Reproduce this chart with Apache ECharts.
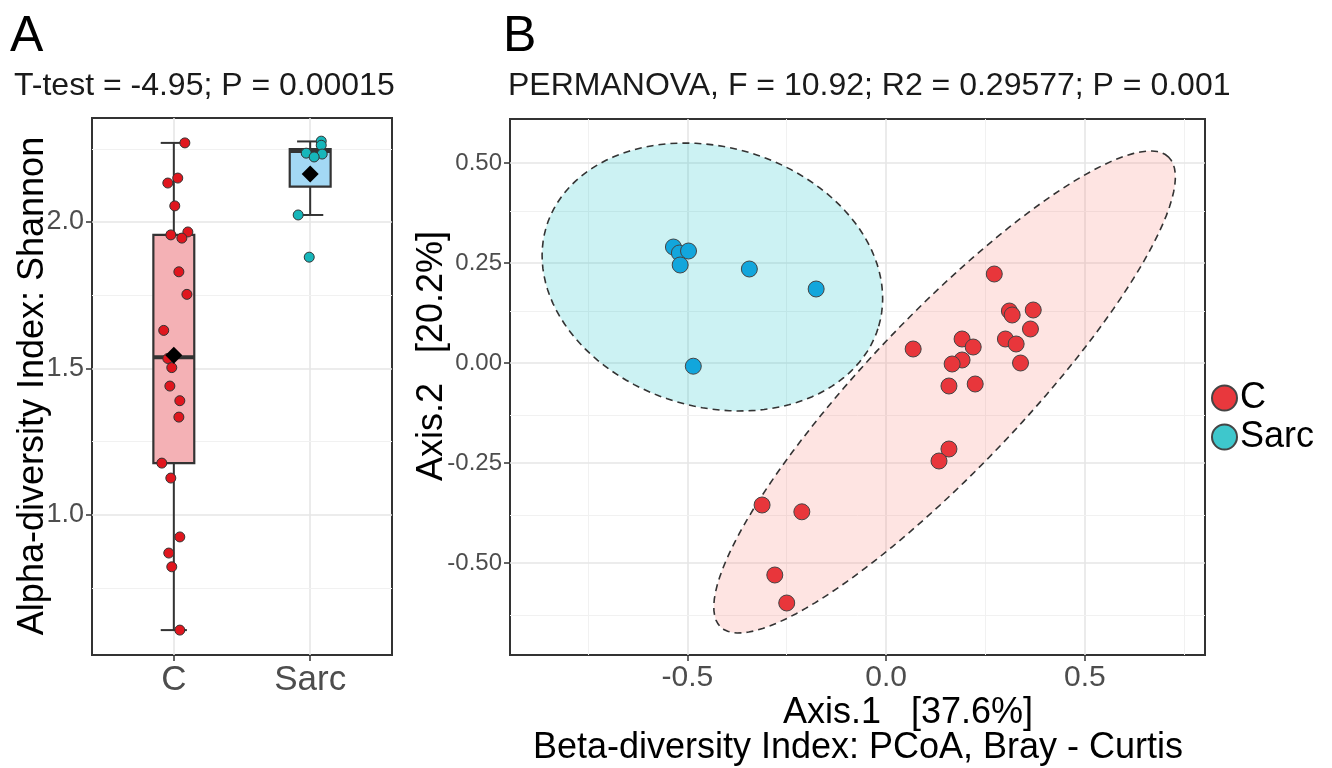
<!DOCTYPE html>
<html>
<head>
<meta charset="utf-8">
<script src="https://cdn.jsdelivr.net/npm/echarts@6/dist/echarts.min.js"></script>
<style>
  html, body { margin: 0; padding: 0; background: #fff; }
  #chart { width: 1332px; height: 768px; }
</style>
</head>
<body>
<div id="chart"></div>
<script>
  // panel A: Shannon index per group, jitter
  var groups = ['C', 'Sarc'];
  var shannonC = [2.27, 2.15, 2.133, 2.055, 1.966, 1.956, 1.945, 1.83, 1.753, 1.63, 1.534,
                  1.503, 1.44, 1.39, 1.334, 1.177, 1.126, 0.925, 0.87, 0.823, 0.607];
  var jitterC = [0.081, 0.029, -0.044, 0.007, 0.103, -0.022, 0.059, 0.037, 0.096, -0.074, -0.044,
                 -0.015, -0.029, 0.044, 0.037, -0.088, -0.022, 0.044, -0.037, -0.015, 0.044];
  var shannonSarc = [2.276, 2.262, 2.235, 2.232, 2.222, 2.024, 1.88];
  var jitterSarc = [0.081, 0.081, -0.029, 0.088, 0.029, -0.088, -0.007];
  // [low whisker, q1, median, q3, high whisker]
  var boxC = [0.607, 1.177, 1.538, 1.956, 2.27];
  var boxSarc = [2.024, 2.121, 2.242, 2.249, 2.275];
  var meanC = 1.545;
  var meanSarc = 2.164;
  var shannonTicks = [1.0, 1.5, 2.0];
  var shannonGrid = [0.75, 1.0, 1.25, 1.5, 1.75, 2.0, 2.25];

  // panel B: PCoA coordinates
  var axis1C = [0.068, -0.312, -0.212, -0.28, -0.25, 0.272, 0.31, 0.317, 0.37, 0.363, 0.191,
                0.219, 0.30, 0.327, 0.191, 0.166, 0.338, 0.158, 0.224, 0.158, 0.133];
  var axis2C = [0.035, -0.355, -0.372, -0.53, -0.60, 0.2225, 0.13, 0.12, 0.1325, 0.085, 0.06,
                0.04, 0.06, 0.0475, 0.0075, -0.0025, 0.0, -0.0575, -0.0525, -0.215, -0.245];
  var axis1Sarc = [-0.535, -0.52, -0.497, -0.518, -0.344, -0.176, -0.485];
  var axis2Sarc = [0.29, 0.275, 0.28, 0.245, 0.235, 0.185, -0.008];
  // [centre x, centre y, semi-major, semi-minor, angle deg]
  var ellipseC = [0.147, -0.0725, 0.8139, 0.1941, 46.2];
  var ellipseSarc = [-0.437, 0.215, 0.4361, 0.3247, -16.4];
  var axis1Ticks = [-0.5, 0, 0.5];
  var axis1Grid = [-0.75, -0.5, -0.25, 0, 0.25, 0.5, 0.75];
  var axis2Ticks = [-0.5, -0.25, 0, 0.25, 0.5];
  var axis2Grid = [-0.625, -0.5, -0.375, -0.25, -0.125, 0, 0.125, 0.25, 0.375, 0.5];

  var dom = document.getElementById("chart");
  var myChart = echarts.init(dom, null, { renderer: 'canvas' });
  var font = 'Liberation Sans';

  function zipPts(xs, ys, offset) {
    return ys.map(function (y, i) { return [offset + xs[i], y]; });
  }
  function pcoaPts(xs, ys) {
    return xs.map(function (x, i) { return [x, ys[i]]; });
  }
  function gridLines(vals, key, majors) {
    return vals.map(function (v) {
      var o = {};
      o[key] = v;
      var major = majors.indexOf(v) >= 0;
      o.lineStyle = { color: major ? '#e6e6e6' : '#f1f1f1', width: major ? 1.6 : 1, type: 'solid' };
      return o;
    });
  }

  function renderBox(params, api) {
    var pos = api.value(0);
    var low = api.value(1), q1 = api.value(2), med = api.value(3), q3 = api.value(4), high = api.value(5);
    var fill = params.dataIndex === 0 ? '#f4b1b5' : '#a3d8f4';
    var c = api.coord;
    var stroke = { stroke: '#333', lineWidth: 2, fill: null };
    var boxL = c([pos - 0.15, q3]), boxR = c([pos + 0.15, q1]);
    return {
      type: 'group',
      children: [
        { type: 'line', shape: { x1: c([pos, q3])[0], y1: c([pos, q3])[1], x2: c([pos, high])[0], y2: c([pos, high])[1] }, style: stroke },
        { type: 'line', shape: { x1: c([pos, q1])[0], y1: c([pos, q1])[1], x2: c([pos, low])[0], y2: c([pos, low])[1] }, style: stroke },
        { type: 'line', shape: { x1: c([pos - 0.096, high])[0], y1: c([pos, high])[1], x2: c([pos + 0.096, high])[0], y2: c([pos, high])[1] }, style: stroke },
        { type: 'line', shape: { x1: c([pos - 0.096, low])[0], y1: c([pos, low])[1], x2: c([pos + 0.096, low])[0], y2: c([pos, low])[1] }, style: stroke },
        { type: 'rect', shape: { x: boxL[0], y: boxL[1], width: boxR[0] - boxL[0], height: boxR[1] - boxL[1] },
          style: { fill: fill, stroke: '#333', lineWidth: 2.2 } },
        { type: 'line', shape: { x1: boxL[0], y1: c([pos, med])[1], x2: boxR[0], y2: c([pos, med])[1] },
          style: { stroke: '#333', lineWidth: 4 } }
      ]
    };
  }

  function renderEllipse(params, api) {
    var cx = api.value(0), cy = api.value(1), a = api.value(2), b = api.value(3);
    var th = api.value(4) * Math.PI / 180;
    var pts = [];
    for (var k = 0; k < 120; k++) {
      var t = k / 120 * Math.PI * 2;
      var dx = a * Math.cos(t), dy = b * Math.sin(t);
      pts.push(api.coord([cx + dx * Math.cos(th) - dy * Math.sin(th), cy + dx * Math.sin(th) + dy * Math.cos(th)]));
    }
    var fill = params.dataIndex === 0 ? 'rgba(248,118,109,0.2)' : 'rgba(0,191,196,0.2)';
    return {
      type: 'polygon',
      shape: { points: pts },
      style: { fill: fill, stroke: '#333', lineWidth: 1.6, lineDash: [7, 5] }
    };
  }

  var tickStyle = { color: '#333', width: 1.5 };

  option = {
    animation: false,
    textStyle: { fontFamily: font },
    grid: [
      { left: 92, top: 118, width: 300, height: 537, show: true, borderColor: '#333', borderWidth: 2, containLabel: false },
      { left: 510, top: 119, width: 695, height: 536, show: true, borderColor: '#333', borderWidth: 2, containLabel: false }
    ],
    xAxis: [
      {
        type: 'value', gridIndex: 0, min: 0.4, max: 2.6,
        splitLine: { show: false }, axisLine: { show: false, onZero: false },
        axisTick: { customValues: [1, 2], length: 6, lineStyle: tickStyle },
        axisLabel: { customValues: [1, 2], margin: 8, fontSize: 35, color: '#4d4d4d',
          formatter: function (v) { return groups[Math.round(v) - 1]; } }
      },
      {
        type: 'value', gridIndex: 1, min: -0.946, max: 0.802,
        splitLine: { show: false }, axisLine: { show: false, onZero: false },
        axisTick: { customValues: axis1Ticks, length: 6, lineStyle: tickStyle },
        axisLabel: { customValues: axis1Ticks, margin: 8, fontSize: 30, color: '#4d4d4d',
          formatter: function (v) { return v.toFixed(1); } }
      }
    ],
    yAxis: [
      {
        type: 'value', gridIndex: 0, min: 0.522, max: 2.355,
        splitLine: { show: false }, axisLine: { show: false, onZero: false },
        axisTick: { customValues: shannonTicks, length: 6, lineStyle: tickStyle },
        axisLabel: { customValues: shannonTicks, margin: 8, fontSize: 27, color: '#4d4d4d',
          formatter: function (v) { return v.toFixed(1); } }
      },
      {
        type: 'value', gridIndex: 1, min: -0.73, max: 0.61,
        splitLine: { show: false }, axisLine: { show: false, onZero: false },
        axisTick: { customValues: axis2Ticks, length: 6, lineStyle: tickStyle },
        axisLabel: { customValues: axis2Ticks, margin: 8, fontSize: 24, color: '#4d4d4d',
          formatter: function (v) { return v.toFixed(2); } }
      }
    ],
    legend: {
      orient: 'vertical', left: 1211, top: 380, itemGap: 3, padding: 0,
      itemWidth: 25, itemHeight: 25, icon: 'circle',
      textStyle: { fontSize: 36, color: '#000', padding: [0, 0, 0, -2] },
      itemStyle: { borderColor: '#444', borderWidth: 2 },
      data: [
        { name: 'C', itemStyle: { color: '#e8383d' } },
        { name: 'Sarc', itemStyle: { color: '#3ec7cc' } }
      ]
    },
    graphic: [
      { type: 'text', left: 10, top: 12, style: { text: 'A', font: '50px ' + font, fill: '#000' } },
      { type: 'text', left: 503, top: 12, style: { text: 'B', font: '50px ' + font, fill: '#000' } },
      { type: 'text', x: 14, y: 86, style: { text: 'T-test = -4.95; P = 0.00015', font: '32px ' + font, fill: '#1a1a1a', verticalAlign: 'middle' } },
      { type: 'text', x: 508, y: 86, style: { text: 'PERMANOVA, F = 10.92; R2 = 0.29577; P = 0.001', font: '32px ' + font, fill: '#1a1a1a', verticalAlign: 'middle' } },
      { type: 'text', x: 33, y: 386, rotation: Math.PI / 2,
        style: { text: 'Alpha-diversity Index: Shannon', font: '36px ' + font, fill: '#000', align: 'center', verticalAlign: 'middle' } },
      { type: 'text', x: 432, y: 356, rotation: Math.PI / 2,
        style: { text: 'Axis.2   [20.2%]', font: '36px ' + font, fill: '#000', align: 'center', verticalAlign: 'middle' } },
      { type: 'text', x: 908, y: 713,
        style: { text: 'Axis.1   [37.6%]', font: '36px ' + font, fill: '#000', align: 'center', verticalAlign: 'middle' } },
      { type: 'text', x: 858, y: 748,
        style: { text: 'Beta-diversity Index: PCoA, Bray - Curtis', font: '36px ' + font, fill: '#000', align: 'center', verticalAlign: 'middle' } }
    ],
    series: [
      {
        name: 'gridA', type: 'line', xAxisIndex: 0, yAxisIndex: 0, data: [], z: 0,
        markLine: { silent: true, z: 0, symbol: ['none', 'none'], label: { show: false },
          data: gridLines([1, 2], 'xAxis', [1, 2]).concat(gridLines(shannonGrid, 'yAxis', shannonTicks)) }
      },
      {
        name: 'gridB', type: 'line', xAxisIndex: 1, yAxisIndex: 1, data: [], z: 0,
        markLine: { silent: true, z: 0, symbol: ['none', 'none'], label: { show: false },
          data: gridLines(axis1Grid, 'xAxis', axis1Ticks).concat(gridLines(axis2Grid, 'yAxis', axis2Ticks)) }
      },
      {
        name: 'box', type: 'custom', xAxisIndex: 0, yAxisIndex: 0, z: 2,
        renderItem: renderBox,
        encode: { x: 0, y: [1, 2, 3, 4, 5] },
        data: [[1].concat(boxC), [2].concat(boxSarc)]
      },
      {
        name: 'shannon C', type: 'scatter', xAxisIndex: 0, yAxisIndex: 0, z: 3,
        symbolSize: 10, itemStyle: { color: '#e0161e', borderColor: '#333', borderWidth: 1, opacity: 1 },
        data: zipPts(jitterC, shannonC, 1)
      },
      {
        name: 'shannon Sarc', type: 'scatter', xAxisIndex: 0, yAxisIndex: 0, z: 3,
        symbolSize: 10, itemStyle: { color: '#16b6ba', borderColor: '#333', borderWidth: 1, opacity: 1 },
        data: zipPts(jitterSarc, shannonSarc, 2)
      },
      {
        name: 'mean', type: 'scatter', xAxisIndex: 0, yAxisIndex: 0, z: 4,
        symbol: 'diamond', symbolSize: 17, itemStyle: { color: '#000', opacity: 1 },
        data: [[1, meanC], [2, meanSarc]]
      },
      {
        name: 'ellipses', type: 'custom', xAxisIndex: 1, yAxisIndex: 1, z: 2,
        renderItem: renderEllipse,
        encode: { x: 0, y: 1 },
        data: [ellipseC, ellipseSarc]
      },
      {
        name: 'C', type: 'scatter', xAxisIndex: 1, yAxisIndex: 1, z: 3,
        symbolSize: 16, itemStyle: { color: '#e8363b', borderColor: '#444', borderWidth: 1, opacity: 1 },
        data: pcoaPts(axis1C, axis2C)
      },
      {
        name: 'Sarc', type: 'scatter', xAxisIndex: 1, yAxisIndex: 1, z: 3,
        symbolSize: 16, itemStyle: { color: '#12a6dc', borderColor: '#444', borderWidth: 1, opacity: 1 },
        data: pcoaPts(axis1Sarc, axis2Sarc)
      }
    ]
  };
  if (option && typeof option === "object") {
      myChart.setOption(option, true);
  }
</script>
</body>
</html>
